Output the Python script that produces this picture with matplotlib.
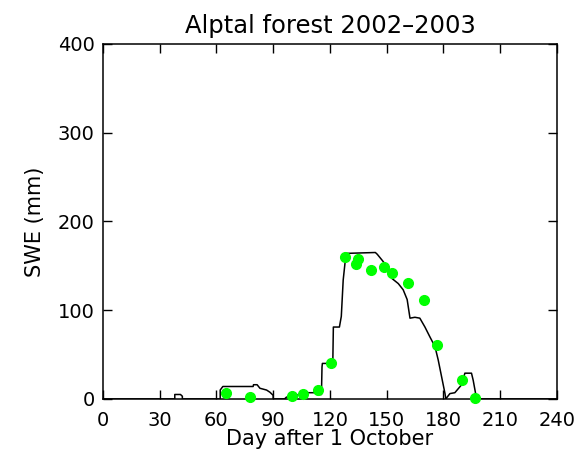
import matplotlib
matplotlib.use('Agg')
import matplotlib.pyplot as plt

plt.rcParams['font.family'] = 'DejaVu Sans'

# modelled SWE (line), vertices
model_day = [0, 38, 38, 41, 42, 42,
             62, 62, 63.4, 79.4, 79.6, 81.5, 83, 86.5, 88.3, 90, 90,
             96, 97, 100, 104, 107, 112, 113, 115.5, 115.8, 116, 121.5, 121.8,
             125, 126, 127, 128.5, 144, 145, 147.3, 149.9, 152.6, 156.1, 158.7,
             160.8, 162.3, 164.9, 167.5, 170.2, 172.8, 175.5, 177.2, 179,
             180.8, 181.2, 183.4, 186, 189.6, 191.3, 194.8, 195.7, 197.5, 240]
model_swe = [0, 0, 5, 5, 3, 0,
             0, 10, 14, 14, 16, 16, 12, 10, 7.5, 4, 0,
             0, 2, 3, 5, 7, 7, 5, 5, 36, 40, 40, 81,
             81, 93, 134, 164, 165, 163, 157, 150, 136, 130, 123,
             112, 91, 92, 91, 81, 70, 59, 44, 25,
             6, 0, 6, 7, 16, 29, 29, 21, 0, 0]

# measured SWE (green dots)
obs_day = [64.8, 78, 99.7, 105.9, 113.8, 120.5, 127.9, 133.7, 134.6,
           141.6, 148.7, 152.6, 161.4, 169.8, 176.7, 189.9, 196.6]
obs_swe = [7, 2.6, 3.7, 5.3, 10, 41, 160, 152, 158,
           145, 149, 142, 131, 112, 61, 21, 1]

x_ticks = [0, 30, 60, 90, 120, 150, 180, 210, 240]
y_ticks = [0, 100, 200, 300, 400]

fig = plt.figure(figsize=(5.78, 4.58), dpi=100)
ax = fig.add_axes([0.178, 0.129, 0.7857, 0.775])

ax.plot(model_day, model_swe, color='black', linewidth=1.1, zorder=2)
ax.plot(obs_day, obs_swe, linestyle='none', marker='o', markersize=7,
        color='#00ff00', markeredgecolor='#00ff00', zorder=3, clip_on=False)

ax.set_xlim(0, 240)
ax.set_ylim(0, 400)
ax.set_xticks(x_ticks)
ax.set_yticks(y_ticks)
ax.tick_params(axis='both', direction='in', length=6.5, width=1.0,
               labelsize=14, top=True, right=True)
ax.tick_params(axis='x', pad=9)
ax.tick_params(axis='y', pad=6)
for s in ax.spines.values():
    s.set_linewidth(1.1)

ax.set_title('Alptal forest 2002\u20132003', fontsize=17.5, pad=8)
ax.set_xlabel('Day after 1 October', fontsize=15, labelpad=-1)
ax.set_ylabel('SWE (mm)', fontsize=15, labelpad=9)

plt.savefig('out.png', dpi=100)
plt.close()
